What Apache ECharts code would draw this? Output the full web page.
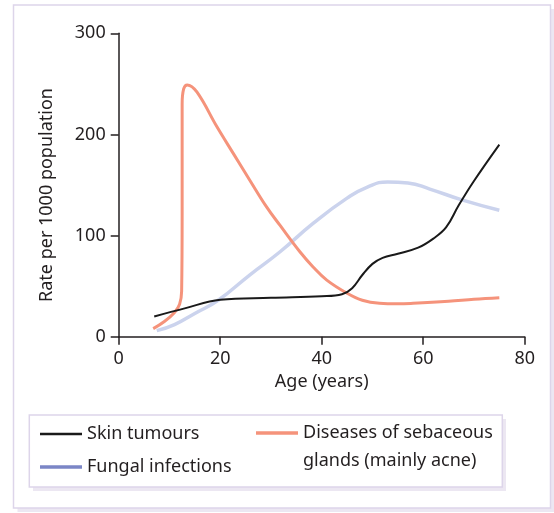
<!DOCTYPE html>
<html>
<head>
<meta charset="utf-8">
<script src="https://cdn.jsdelivr.net/npm/echarts@6/dist/echarts.min.js"></script>
<style>
  html, body { margin: 0; padding: 0; background: #fff; }
  #chart { width: 554px; height: 513px; }
</style>
</head>
<body>
<div id="chart"></div>
<script>
// ages / rates
const skinTumours = [
  [7, 20], [13, 28], [20, 36.5], [30, 38.5], [40, 40], [44, 42], [46, 48],
  [48, 61], [50, 72], [52, 78], [55, 82], [59, 88], [62, 97], [64.5, 108],
  [67, 130], [70, 154], [75, 190]
];
const fungalInfections = [
  [7.5, 6], [11, 12], [15, 23], [19.6, 36], [25.8, 61], [31.8, 84],
  [38.3, 112], [45, 137], [49, 148], [53, 153], [57, 152],
  [61.3, 146], [67.8, 135], [75, 125]
];
const sebaceous = [
  [6.8, 8], [9, 15], [11, 24], [12, 32], [12.4, 45], [12.5, 120], [12.5, 230],
  [12.8, 245], [13.5, 249], [15.4, 242], [19.3, 208], [22.6, 181], [25.8, 155],
  [29.1, 128.6], [31.8, 110], [35.7, 84], [38.3, 69], [41, 56], [45, 43],
  [48, 36], [51.4, 33], [55, 32.5], [58, 33], [65, 35], [70, 37], [75, 38.5]
];
const xTicks = [0, 20, 40, 60, 80];
const yTicks = [0, 100, 200, 300];

const names = {
  skin: 'Skin tumours',
  fungal: 'Fungal infections',
  acne: 'Diseases of sebaceous\nglands (mainly acne)'
};
const FONT = 'Noto Sans';
const INK = '#231f20';

const chart = echarts.init(document.getElementById('chart'));

const option = {
  animation: false,
  textStyle: { fontFamily: FONT },
  grid: { left: 118.7, right: 29.3, top: 33.3, bottom: 176.3 },
  xAxis: {
    type: 'value',
    min: xTicks[0], max: xTicks[xTicks.length - 1], interval: 20,
    name: 'Age (years)',
    nameLocation: 'middle',
    nameGap: 34,
    nameTextStyle: { color: INK, fontSize: 18, fontFamily: FONT },
    axisLine: { lineStyle: { color: INK, width: 1.5 } },
    axisTick: { length: 8, lineStyle: { color: INK, width: 1.5 } },
    axisLabel: { color: INK, fontSize: 18, margin: 13, fontFamily: FONT },
    splitLine: { show: false }
  },
  yAxis: {
    type: 'value',
    min: yTicks[0], max: yTicks[yTicks.length - 1], interval: 100,
    name: 'Rate per 1000 population',
    nameLocation: 'middle',
    nameGap: 63,
    nameTextStyle: { color: INK, fontSize: 18, fontFamily: FONT, padding: [0, 20, 0, 0] },
    axisLine: { show: true, lineStyle: { color: INK, width: 1.5 } },
    axisTick: { show: true, length: 8, lineStyle: { color: INK, width: 1.5 } },
    axisLabel: { color: INK, fontSize: 18, margin: 13, fontFamily: FONT },
    splitLine: { show: false }
  },
  legend: [
    {
      left: 40, top: 425, padding: 0, selectedMode: false,
      icon: 'rect', itemWidth: 42, itemHeight: 2.5, itemGap: 5,
      textStyle: { color: INK, fontSize: 18, fontFamily: FONT },
      data: [{ name: names.skin, itemStyle: { color: '#1a1a1a' } }]
    },
    {
      left: 40, top: 458, padding: 0, selectedMode: false,
      icon: 'rect', itemWidth: 42, itemHeight: 3.5,
      textStyle: { color: INK, fontSize: 18, fontFamily: FONT },
      data: [{ name: names.fungal, itemStyle: { color: '#7b86c6' } }]
    },
    {
      left: 256, top: 391, padding: 0, selectedMode: false,
      icon: 'rect', itemWidth: 42, itemHeight: 3.5, itemGap: 7,
      // blank first line keeps the icon level with the first text line
      formatter: function (name) { return '\n' + name; },
      textStyle: { color: INK, fontSize: 18, fontFamily: FONT, lineHeight: 28 },
      data: [{ name: names.acne, itemStyle: { color: '#f5937b' } }]
    }
  ],
  graphic: [
    // outer frame with shadow
    { type: 'rect', z: -20, shape: { x: 17.5, y: 9, width: 537, height: 503 }, style: { fill: '#ece7f2' } },
    { type: 'rect', z: -19, shape: { x: 13.5, y: 5, width: 537, height: 503 }, style: { fill: '#fff', stroke: '#ddd5ea', lineWidth: 1.5 } },
    // legend box with shadow
    { type: 'rect', z: -18, shape: { x: 33, y: 419, width: 473, height: 72 }, style: { fill: '#ece7f2' } },
    { type: 'rect', z: -17, shape: { x: 29.3, y: 415, width: 473, height: 72 }, style: { fill: '#fff', stroke: '#ddd5ea', lineWidth: 1.5 } }
  ],
  series: [
    {
      name: names.fungal, type: 'line', data: fungalInfections,
      smooth: 0.5, showSymbol: false, z: 2,
      lineStyle: { color: '#cbd3ed', width: 3.5 }, itemStyle: { color: '#cbd3ed' }
    },
    {
      name: names.acne, type: 'line', data: sebaceous,
      smooth: 0.4, showSymbol: false, z: 3,
      lineStyle: { color: '#f5937b', width: 3 }, itemStyle: { color: '#f5937b' }
    },
    {
      name: names.skin, type: 'line', data: skinTumours,
      smooth: 0.4, showSymbol: false, z: 4,
      lineStyle: { color: '#1a1a1a', width: 2 }, itemStyle: { color: '#1a1a1a' }
    }
  ]
};

chart.setOption(option);
window.onresize = function () {
  chart.resize();
};
</script>
</body>
</html>
